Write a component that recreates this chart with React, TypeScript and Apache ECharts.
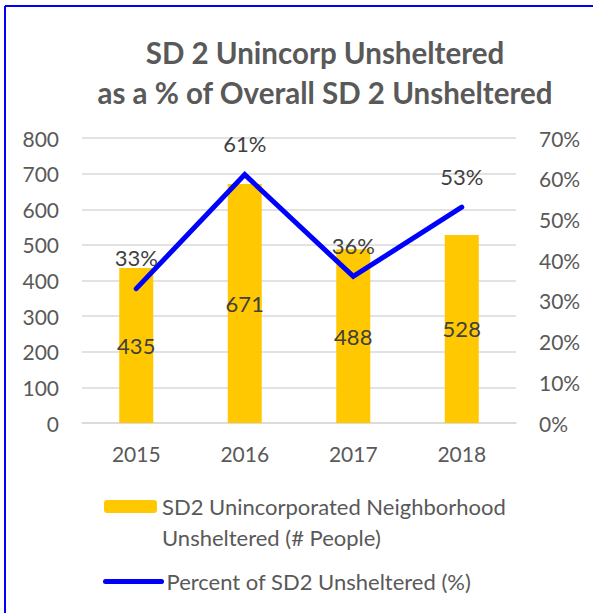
import React, { useEffect, useRef } from "react";
import * as echarts from "echarts";

const years = ["2015", "2016", "2017", "2018"];
const unsheltered = [435, 671, 488, 528];
const percentShare = [0.33, 0.61, 0.36, 0.53];
const barName = "SD2 Unincorporated Neighborhood\nUnsheltered (# People)";
const lineName = "Percent of SD2 Unsheltered (%)";
const titleText = "SD 2 Unincorp Unsheltered\nas a % of Overall SD 2 Unsheltered";

const FONT = "Lato, 'Open Sans', sans-serif";
const GREY = "#595959";
const DARK = "#404040";

export default function App() {
  const ref = useRef<HTMLDivElement>(null);
  useEffect(() => {
    if (!ref.current) return;
    const chart = echarts.init(ref.current, undefined, { renderer: "svg" });
    chart.setOption({
      animation: false,
      backgroundColor: "#ffffff",
      textStyle: { fontFamily: FONT },
      title: {
        text: titleText,
        left: 325,
        textAlign: "center",
        top: 32,
        padding: 0,
        textStyle: {
          fontFamily: FONT,
          fontSize: 29.5,
          fontWeight: "bold",
          color: GREY,
          lineHeight: 40,
        },
      },
      graphic: [
        { type: "line", shape: { x1: 5, y1: 6, x2: 593, y2: 6 }, style: { stroke: "#0000FF", lineWidth: 2 } },
        { type: "line", shape: { x1: 5, y1: 6, x2: 5, y2: 613 }, style: { stroke: "#0000FF", lineWidth: 2 } },
      ],
      legend: [
        {
          data: [barName],
          left: 104,
          top: 460,
          padding: 0,
          itemWidth: 53,
          itemHeight: 13,
          selectedMode: false,
          formatter: (name: string) => "\n" + name,
          textStyle: { fontFamily: FONT, fontSize: 22, color: GREY, lineHeight: 31 },
        },
        {
          data: [lineName],
          left: 103,
          top: 566,
          padding: 0,
          itemWidth: 56,
          itemHeight: 13,
          selectedMode: false,
          itemStyle: { color: "rgba(0,0,0,0)", borderWidth: 0 },
          lineStyle: { width: 5, cap: "round", color: "#0000FF" },
          textStyle: { fontFamily: FONT, fontSize: 22, color: GREY, lineHeight: 31 },
        },
      ],
      grid: { left: 82, right: 77, top: 138, bottom: 190 },
      xAxis: {
        type: "category",
        data: years,
        axisLine: { show: true, lineStyle: { color: "#D9D9D9", width: 1.5 } },
        axisTick: { show: false },
        axisLabel: { fontFamily: FONT, fontSize: 21, color: GREY, margin: 20 },
      },
      yAxis: [
        {
          type: "value",
          min: 0,
          max: 800,
          interval: 100,
          axisLine: { show: false },
          axisTick: { show: false },
          splitLine: { lineStyle: { color: "#D9D9D9", width: 1.5 } },
          axisLabel: { fontFamily: FONT, fontSize: 21, color: GREY, margin: 23 },
        },
        {
          type: "value",
          min: 0,
          max: 0.7,
          interval: 0.1,
          axisLine: { show: false },
          axisTick: { show: false },
          splitLine: { show: false },
          axisLabel: {
            fontFamily: FONT,
            fontSize: 21,
            color: GREY,
            margin: 23,
            formatter: (v: number) => Math.round(v * 100) + "%",
          },
        },
      ],
      series: [
        {
          name: barName,
          type: "bar",
          data: unsheltered,
          barWidth: 34,
          itemStyle: { color: "#FFC800" },
          label: {
            show: true,
            position: "inside",
            fontFamily: FONT,
            fontSize: 22,
            color: DARK,
          },
        },
        {
          name: lineName,
          type: "line",
          yAxisIndex: 1,
          data: percentShare,
          symbol: "circle",
          symbolSize: 2,
          itemStyle: { color: "#0000FF" },
          lineStyle: { color: "#0000FF", width: 5, cap: "round", join: "miter" },
          label: {
            show: true,
            position: "top",
            distance: 19,
            fontFamily: FONT,
            fontSize: 22,
            color: DARK,
            formatter: (p: any) => Math.round(p.value * 100) + "%",
          },
        },
      ],
    });
    return () => chart.dispose();
  }, []);
  return (
    <div
      ref={ref}
      style={{ position: "absolute", left: 0, top: 0, width: 593, height: 613 }}
    />
  );
}
